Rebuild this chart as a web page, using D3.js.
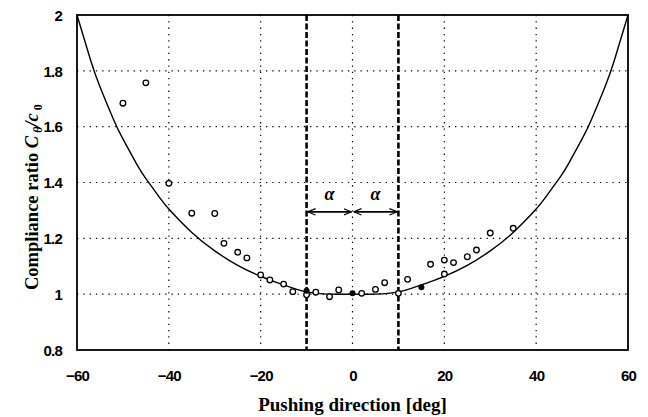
<!DOCTYPE html>
<html>
<head>
<meta charset="utf-8">
<script src="https://cdn.jsdelivr.net/npm/d3@7"></script>
<style>
  body { margin: 0; background: #fff; }
  svg { display: block; }
</style>
</head>
<body>
<div id="chart"></div>
<script>
// model curve
var curveDeg = [-60, -57, -55, -52, -50, -47, -45, -42, -40, -35, -30, -25, -20, -15, -10, -5, 0, 5, 10, 15, 20, 25, 30, 35, 40, 42, 45, 47, 50, 52, 55, 57, 60];
var curveVal = [2.00, 1.836, 1.743, 1.624, 1.556, 1.466, 1.414, 1.346, 1.305, 1.221, 1.155, 1.103, 1.064, 1.033, 1.008, 1.000, 1.000, 1.000, 1.008, 1.033, 1.064, 1.103, 1.155, 1.221, 1.305, 1.346, 1.414, 1.466, 1.556, 1.624, 1.743, 1.836, 2.00];

// measured points (open circles)
var openDeg = [-50, -45, -40, -35, -30, -28, -25, -23, -20, -18, -15, -13, -10, -8, -5, -3, 2, 5, 7, 10, 12, 17, 20, 20, 22, 25, 27, 30, 35];
var openVal = [1.684, 1.757, 1.397, 1.29, 1.289, 1.182, 1.15, 1.13, 1.069, 1.051, 1.036, 1.009, 0.998, 1.007, 0.991, 1.015, 1.003, 1.017, 1.041, 1.003, 1.053, 1.107, 1.122, 1.072, 1.113, 1.134, 1.158, 1.219, 1.236];

// filled points
var fillDeg = [-10, 0, 15];
var fillVal = [1.012, 1.003, 1.025];

var xTicks = [-60, -40, -20, 0, 20, 40, 60];
var yTicks = [0.8, 1, 1.2, 1.4, 1.6, 1.8, 2];
var alphaDeg = 10;

(function () {
    var width = 648, height = 417,
        margin = { left: 77, right: 20, top: 15, bottom: 67 };

    var svg = d3.select('#chart').append('svg')
        .attr('width', width).attr('height', height);

    var x = d3.scaleLinear().domain([-60, 60]).range([margin.left, width - margin.right]);
    var y = d3.scaleLinear().domain([0.8, 2]).range([height - margin.bottom, margin.top]);

    var g = svg.append('g');

    // dotted grid
    g.selectAll('.gx').data(xTicks.filter(d => d > -60 && d < 60)).enter()
        .append('line')
        .attr('x1', d => x(d)).attr('x2', d => x(d))
        .attr('y1', y(2)).attr('y2', y(0.8))
        .attr('stroke', '#000').attr('stroke-width', 1.2)
        .attr('stroke-dasharray', '1.3,5');
    g.selectAll('.gy').data(yTicks.filter(d => d > 0.8 && d < 2)).enter()
        .append('line')
        .attr('x1', x(-60)).attr('x2', x(60))
        .attr('y1', d => y(d)).attr('y2', d => y(d))
        .attr('stroke', '#000').attr('stroke-width', 1.2)
        .attr('stroke-dasharray', '1.3,5');

    // axes with labels only
    var xa = svg.append('g')
        .attr('transform', 'translate(0,' + (y(0.8) + 14) + ')')
        .call(d3.axisBottom(x).tickValues(xTicks).tickSize(0).tickFormat(d3.format('d')));
    var ya = svg.append('g')
        .attr('transform', 'translate(' + (x(-60) - 12) + ',0)')
        .call(d3.axisLeft(y).tickValues(yTicks).tickSize(0).tickFormat(d => d3.format('')(d)));
    [xa, ya].forEach(function (a) {
        a.select('.domain').remove();
        a.selectAll('text')
            .style('font-family', '"Liberation Sans", Arial, sans-serif')
            .style('font-weight', 'bold')
            .style('font-size', '15px')
            .style('letter-spacing', '-0.8px')
            .attr('fill', '#000');
    });
    ya.selectAll('text').attr('dy', '0.35em');
    xa.selectAll('text').attr('dy', '0.9em');

    // dashed alpha boundaries
    g.selectAll('.dash').data([-alphaDeg, alphaDeg]).enter()
        .append('line')
        .attr('x1', d => x(d)).attr('x2', d => x(d))
        .attr('y1', y(2)).attr('y2', y(0.8))
        .attr('stroke', '#000').attr('stroke-width', 2.6)
        .attr('stroke-dasharray', '6,2.5');

    // model curve
    var line = d3.line()
        .x((d, i) => x(curveDeg[i]))
        .y(d => y(d))
        .curve(d3.curveNatural);
    g.append('path')
        .datum(curveVal)
        .attr('d', line)
        .attr('fill', 'none')
        .attr('stroke', '#000')
        .attr('stroke-width', 1.4);

    // frame
    g.append('rect')
        .attr('x', x(-60)).attr('y', y(2))
        .attr('width', x(60) - x(-60)).attr('height', y(0.8) - y(2))
        .attr('fill', 'none').attr('stroke', '#000').attr('stroke-width', 1.8);

    // points
    g.selectAll('.open').data(openVal).enter()
        .append('circle')
        .attr('cx', (d, i) => x(openDeg[i]))
        .attr('cy', d => y(d))
        .attr('r', 2.8)
        .attr('fill', '#fff').attr('stroke', '#000').attr('stroke-width', 1.3);
    g.selectAll('.filled').data(fillVal).enter()
        .append('circle')
        .attr('cx', (d, i) => x(fillDeg[i]))
        .attr('cy', d => y(d))
        .attr('r', 3)
        .attr('fill', '#000');

    // alpha arrows
    var defs = svg.append('defs');
    defs.append('marker').attr('id', 'arr')
        .attr('viewBox', '0 0 10 10').attr('refX', 10).attr('refY', 5)
        .attr('markerWidth', 8).attr('markerHeight', 8)
        .attr('markerUnits', 'userSpaceOnUse')
        .attr('orient', 'auto-start-reverse')
        .append('path').attr('d', 'M0,1 L10,5 L0,9')
        .attr('fill', 'none').attr('stroke', '#000').attr('stroke-width', 1.4);

    var ay = y(1.295);
    [[-alphaDeg, 0], [0, alphaDeg]].forEach(function (s) {
        g.append('line')
            .attr('x1', x(s[0]) + 1).attr('x2', x(s[1]) - 1)
            .attr('y1', ay).attr('y2', ay)
            .attr('stroke', '#000').attr('stroke-width', 1.8)
            .attr('marker-start', 'url(#arr)').attr('marker-end', 'url(#arr)');
        g.append('text')
            .attr('x', x((s[0] + s[1]) / 2)).attr('y', ay - 12)
            .attr('text-anchor', 'middle')
            .style('font-family', '"Liberation Serif", serif')
            .style('font-style', 'italic').style('font-weight', 'bold')
            .style('font-size', '18px')
            .text('α');
    });

    // axis titles
    svg.append('text')
        .attr('x', (x(-60) + x(60)) / 2).attr('y', 411)
        .attr('text-anchor', 'middle')
        .style('font-family', '"Liberation Serif", "Times New Roman", serif')
        .style('font-weight', 'bold').style('font-size', '19px')
        .text('Pushing direction [deg]');

    var yt = svg.append('text')
        .attr('transform', 'translate(38,290)rotate(-90)')
        .attr('text-anchor', 'start')
        .style('font-family', '"Liberation Serif", "Times New Roman", serif')
        .style('font-weight', 'bold').style('font-size', '18.5px');
    yt.append('tspan').text('Compliance ratio ');
    yt.append('tspan').style('font-style', 'italic').text('C');
    yt.append('tspan').attr('dy', 4).style('font-size', '12px').style('font-style', 'italic').text(' θ');
    yt.append('tspan').attr('dy', -4).style('font-style', 'italic').text('/c');
    yt.append('tspan').attr('dy', 4).style('font-size', '12px').text(' 0');
}());
</script>
</body>
</html>
